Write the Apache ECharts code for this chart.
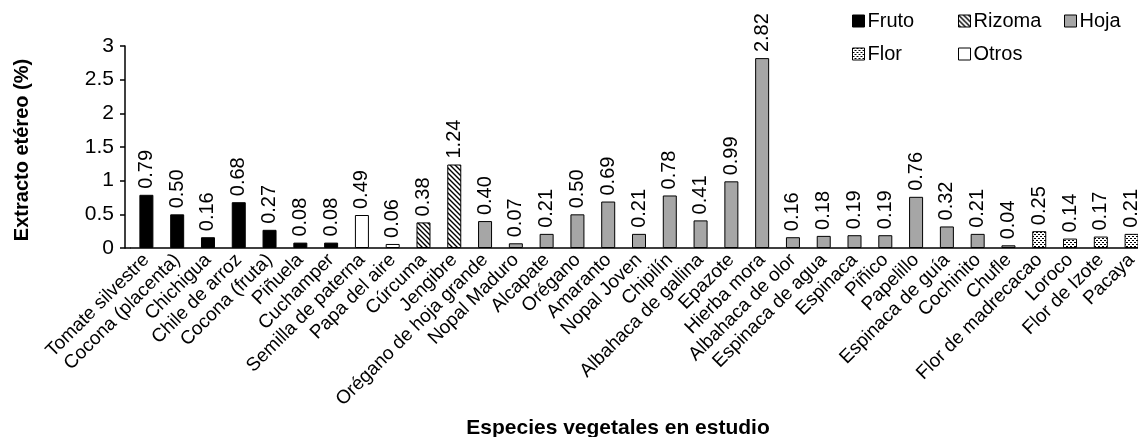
<!DOCTYPE html>
<html>
<head>
<meta charset="utf-8">
<script src="https://cdn.jsdelivr.net/npm/echarts@6/dist/echarts.min.js"></script>
<style>
  html, body { margin: 0; padding: 0; background: #fff; }
  #chart { width: 1138px; height: 437px; }
</style>
</head>
<body>
<div id="chart"></div>
<script>
// Species studied and their ether extract (%)
const categories = [
  'Tomate silvestre', 'Cocona (placenta)', 'Chichigua', 'Chile de arroz', 'Cocona (fruta)',
  'Piñuela', 'Cuchamper', 'Semilla de paterna', 'Papa del aire', 'Cúrcuma', 'Jengibre',
  'Orégano de hoja grande', 'Nopal Maduro', 'Alcapate', 'Orégano', 'Amaranto', 'Nopal Joven',
  'Chipilín', 'Albahaca de gallina', 'Epazote', 'Hierba mora', 'Albahaca de olor',
  'Espinaca de agua', 'Espinaca', 'Piñico', 'Papelillo', 'Espinaca de guía', 'Cochinito',
  'Chufle', 'Flor de madrecacao', 'Loroco', 'Flor de Izote', 'Pacaya'
];
const values = [
  0.79, 0.50, 0.16, 0.68, 0.27, 0.08, 0.08, 0.49, 0.06, 0.38, 1.24,
  0.40, 0.07, 0.21, 0.50, 0.69, 0.21, 0.78, 0.41, 0.99, 2.82, 0.16,
  0.18, 0.19, 0.19, 0.76, 0.32, 0.21, 0.04, 0.25, 0.14, 0.17, 0.21
];
// Plant part of each species
const groups = [
  'Fruto', 'Fruto', 'Fruto', 'Fruto', 'Fruto', 'Fruto', 'Fruto', 'Otros', 'Otros', 'Rizoma', 'Rizoma',
  'Hoja', 'Hoja', 'Hoja', 'Hoja', 'Hoja', 'Hoja', 'Hoja', 'Hoja', 'Hoja', 'Hoja', 'Hoja',
  'Hoja', 'Hoja', 'Hoja', 'Hoja', 'Hoja', 'Hoja', 'Hoja', 'Flor', 'Flor', 'Flor', 'Flor'
];
const groupNames = ['Fruto', 'Rizoma', 'Hoja', 'Flor', 'Otros'];
const yMin = 0, yMax = 3, yStep = 0.5;

const FONT = '"Liberation Sans", Arial, sans-serif';

// Hatched fill for rhizomes
function hatchPattern() {
  const c = document.createElement('canvas');
  c.width = 5; c.height = 5;
  const g = c.getContext('2d');
  g.fillStyle = '#fff'; g.fillRect(0, 0, 5, 5);
  g.strokeStyle = '#000'; g.lineWidth = 1.4;
  g.beginPath();
  g.moveTo(-1, -1); g.lineTo(6, 6);
  g.moveTo(-1, 4); g.lineTo(1, 6);
  g.moveTo(4, -1); g.lineTo(6, 1);
  g.stroke();
  return { image: c, repeat: 'repeat' };
}
// Dotted fill for flowers
function dotPattern() {
  const c = document.createElement('canvas');
  c.width = 4; c.height = 4;
  const g = c.getContext('2d');
  g.fillStyle = '#fff'; g.fillRect(0, 0, 4, 4);
  g.fillStyle = '#000';
  g.fillRect(0, 0, 2, 1);
  g.fillRect(2, 2, 2, 1);
  return { image: c, repeat: 'repeat' };
}

const fills = {
  'Fruto': '#000000',
  'Rizoma': hatchPattern(),
  'Hoja': '#a6a6a6',
  'Flor': dotPattern(),
  'Otros': '#ffffff'
};

const series = groupNames.map(name => ({
  name: name,
  type: 'bar',
  barWidth: 14,
  barGap: '-100%',
  data: values.map((v, i) => groups[i] === name ? v : '-'),
  itemStyle: { color: fills[name], borderColor: '#000', borderWidth: 1 },
  label: {
    show: true,
    position: 'top',
    rotate: 90,
    align: 'left',
    verticalAlign: 'middle',
    distance: 6,
    color: '#000',
    fontFamily: FONT,
    fontSize: 20,
    formatter: p => Number(p.value).toFixed(2)
  }
}));

const legendPos = {
  'Fruto': [852, 11], 'Rizoma': [958, 11], 'Hoja': [1064, 11],
  'Flor': [852, 44], 'Otros': [958, 44]
};
const legends = groupNames.map(name => ({
  data: [name],
  left: legendPos[name][0],
  top: legendPos[name][1],
  itemWidth: 12,
  itemHeight: 12,
  itemGap: 0,
  padding: 0,
  selectedMode: false,
  icon: 'rect',
  itemStyle: { borderColor: '#000', borderWidth: 1 },
  textStyle: { color: '#000', fontFamily: FONT, fontSize: 20, padding: [0, 0, 0, -2] }
}));

// Plot area: category bands start a few pixels right of the value axis line
const gridLeft = 131, axisX = 125, zeroY = 248;

const chart = echarts.init(document.getElementById('chart'), null, { renderer: 'canvas' });
chart.setOption({
  animation: false,
  backgroundColor: '#fff',
  legend: legends,
  grid: { left: gridLeft, right: -9, top: 46, bottom: 437 - zeroY, containLabel: false, outerBoundsMode: 'none' },
  xAxis: {
    type: 'category',
    data: categories,
    boundaryGap: true,
    axisLine: { lineStyle: { color: '#000', width: 1.5 } },
    axisTick: { alignWithLabel: true, length: 5, lineStyle: { color: '#000', width: 1.5 } },
    axisLabel: {
      interval: 0, rotate: 45, margin: 9,
      color: '#000', fontFamily: FONT, fontSize: 19
    },
    splitLine: { show: false }
  },
  yAxis: {
    type: 'value',
    min: yMin, max: yMax, interval: yStep,
    offset: gridLeft - axisX,
    axisLine: { show: true, lineStyle: { color: '#000', width: 1.5 } },
    axisTick: { show: true, length: 5, lineStyle: { color: '#000', width: 1.5 } },
    axisLabel: { margin: 11, color: '#000', fontFamily: FONT, fontSize: 21 },
    splitLine: { show: false }
  },
  graphic: [
    {
      // x axis line continued to meet the value axis
      type: 'line', silent: true,
      shape: { x1: axisX, y1: zeroY, x2: gridLeft, y2: zeroY },
      style: { stroke: '#000', lineWidth: 1.5 }
    },
    {
      type: 'text', x: 22, y: 150, rotation: Math.PI / 2,
      style: { text: 'Extracto etéreo (%)', fill: '#000', font: 'bold 20px ' + FONT, align: 'center', verticalAlign: 'middle' }
    },
    {
      type: 'text', x: 618, y: 428,
      style: { text: 'Especies vegetales en estudio', fill: '#000', font: 'bold 21px ' + FONT, align: 'center', verticalAlign: 'middle' }
    }
  ],
  series: series
});
</script>
</body>
</html>
